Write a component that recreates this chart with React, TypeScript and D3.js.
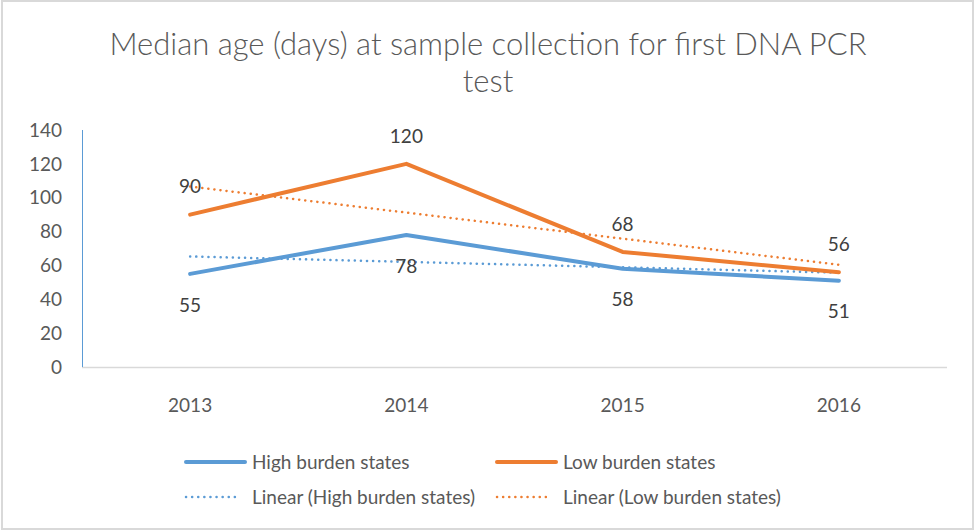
import React from "react";
import * as d3 from "d3";

const years = ["2013", "2014", "2015", "2016"];
const highBurden = [55, 78, 58, 51];
const lowBurden = [90, 120, 68, 56];
const yTicks = [0, 20, 40, 60, 80, 100, 120, 140];
const titleLines = ["Median age (days) at sample collection for first DNA PCR", "test"];

const BLUE = "#5B9BD5";
const ORANGE = "#ED7D31";
const TEXT = "#595959";
const FONT = "Lato, 'Open Sans', sans-serif";

function linearFit(vals: number[]) {
  const xs = vals.map((_, i) => i + 1);
  const mx = d3.mean(xs)!;
  const my = d3.mean(vals)!;
  const sxy = d3.sum(xs.map((x, i) => (x - mx) * (vals[i] - my)));
  const sxx = d3.sum(xs.map((x) => (x - mx) * (x - mx)));
  const b = sxy / sxx;
  const a = my - b * mx;
  return xs.map((x) => a + b * x);
}

export default function App() {
  const W = 975, H = 532;
  const left = 82, right = 947, top = 130, bottom = 367;
  const x = d3.scaleBand<string>().domain(years).range([left, right]);
  const cx = (d: string) => x(d)! + x.bandwidth() / 2;
  const y = d3.scaleLinear().domain([0, 140]).range([bottom, top]);
  const line = d3.line<number>().x((_, i) => cx(years[i])).y((v) => y(v));
  const highTrend = linearFit(highBurden);
  const lowTrend = linearFit(lowBurden);

  const legend = [
    { label: "High burden states", color: BLUE, dash: false, x: 186, y: 462 },
    { label: "Low burden states", color: ORANGE, dash: false, x: 497, y: 462 },
    { label: "Linear (High burden states)", color: BLUE, dash: true, x: 186, y: 497 },
    { label: "Linear (Low burden states)", color: ORANGE, dash: true, x: 497, y: 497 },
  ];
  const FS = 19;

  return (
    <svg width={W} height={H} style={{ position: "absolute", left: 0, top: 0, background: "#fff" }} fontFamily={FONT}>
      <rect x={2} y={1} width={971} height={528} fill="#fff" stroke="#D9D9D9" strokeWidth={2} />
      {titleLines.map((t, i) => (
        <text key={i} x={488} y={55 + i * 37} textAnchor="middle" fontSize={31} fill={TEXT} fontWeight={300}>
          {t}
        </text>
      ))}
      {/* axes */}
      <line x1={left} x2={right} y1={bottom + 0.5} y2={bottom + 0.5} stroke="#D9D9D9" strokeWidth={1.5} />
      <line x1={left + 0.5} x2={left + 0.5} y1={top} y2={bottom} stroke={BLUE} strokeWidth={1} />
      {yTicks.map((t) => (
        <text key={t} x={62} y={y(t)} dy="0.35em" textAnchor="end" fontSize={FS} fill={TEXT}>
          {t}
        </text>
      ))}
      {years.map((yr) => (
        <text key={yr} x={cx(yr)} y={405} dy="0.35em" textAnchor="middle" fontSize={FS} fill={TEXT}>
          {yr}
        </text>
      ))}
      {/* trend lines */}
      <path d={line(highTrend)!} fill="none" stroke={BLUE} strokeWidth={2.5} strokeDasharray="0.1 6" strokeLinecap="round" />
      <path d={line(lowTrend)!} fill="none" stroke={ORANGE} strokeWidth={2.5} strokeDasharray="0.1 6" strokeLinecap="round" />
      {/* data lines */}
      <path d={line(highBurden)!} fill="none" stroke={BLUE} strokeWidth={4} strokeLinejoin="round" strokeLinecap="round" />
      <path d={line(lowBurden)!} fill="none" stroke={ORANGE} strokeWidth={4} strokeLinejoin="round" strokeLinecap="round" />
      {/* data labels */}
      {highBurden.map((v, i) => (
        <text key={"h" + i} x={cx(years[i])} y={y(v) + 31} dy="0.35em" textAnchor="middle" fontSize={FS} fill="#404040">
          {v}
        </text>
      ))}
      {lowBurden.map((v, i) => (
        <text key={"l" + i} x={cx(years[i])} y={y(v) - 28} dy="0.35em" textAnchor="middle" fontSize={FS} fill="#404040">
          {v}
        </text>
      ))}
      {/* legend */}
      {legend.map((l) => (
        <g key={l.label}>
          <line
            x1={l.x}
            x2={l.x + (l.dash ? 54 : 59)}
            y1={l.y}
            y2={l.y}
            stroke={l.color}
            strokeWidth={l.dash ? 2.5 : 4}
            strokeDasharray={l.dash ? "0.1 6" : undefined}
            strokeLinecap="round"
          />
          <text x={l.x + 66} y={l.y} dy="0.35em" fontSize={FS} fill={TEXT}>
            {l.label}
          </text>
        </g>
      ))}
    </svg>
  );
}
